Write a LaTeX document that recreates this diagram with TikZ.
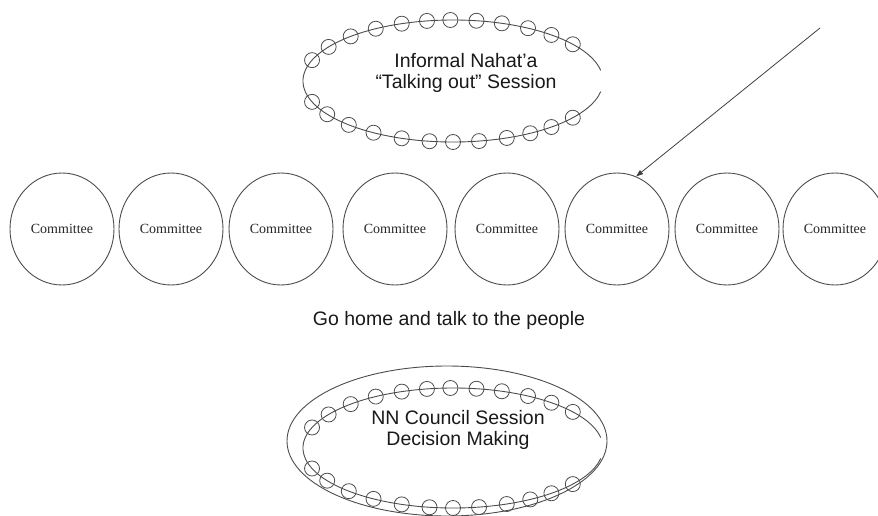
\documentclass[tikz,border=0pt]{standalone}
\usepackage{fontspec}
\setmainfont{Liberation Sans}
\newfontfamily\serifcmt{Liberation Serif}
\usetikzlibrary{arrows.meta}
\usetikzlibrary{calc}
\usetikzlibrary{shapes.geometric}

\begin{document}
\begin{tikzpicture}[
        x=1pt, y=-1pt, % pixel coordinates, y going down
        line/.style={draw=black!70, line width=0.9pt}, % general lines
        committee/.style={ellipse, line, minimum width=104pt, minimum height=112pt,
            inner sep=0pt, font=\serifcmt\fontsize{14}{16}\selectfont, text=black!85},
        bead/.style={draw=black!70, line width=0.8pt}, % small rings on the session ring
        label/.style={font=\fontsize{19.5}{21}\selectfont, text=black!90, align=center},
        arrow/.style={-{Triangle[length=7pt, width=5pt]}, draw=black!75, line width=0.8pt}
    ]
        \useasboundingbox (0,0) rectangle (878,516);

        % --- Informal session (top) ---
        \coordinate (ringA) at (453,81);
        \draw[line] (ringA) ++(10:150pt and 61pt)
            arc[start angle=10, end angle=350, x radius=150pt, y radius=61pt];
        \foreach \a in {37,49,60,71,81,91,100,110,121,133,146,160,
                        200,213,226,238,250,261,270,280,291,301,311,323}
            \draw[bead] ($(ringA)+(\a:150pt and 61pt)$) circle (7.5pt);
        \node[label] (talk) at (466,73) {Informal Nahat'a\\``Talking out'' Session};

        % --- Committees in a row ---
        \foreach \x [count=\i] in {62,171,281,395,507,617,727,835}
            \node[committee] (c\i) at (\x,229) {Committee};

        % --- Arrow coming in from the upper right ---
        \coordinate (src) at (820,28);
        \draw[arrow] (src) -- (c6.70);

        % --- Go home ---
        \node[label] (home) at (449,320) {Go home and talk to the people};

        % --- Council session (bottom) ---
        \node[ellipse, line, minimum width=320pt, minimum height=150pt, inner sep=0pt]
            (council) at (447,441) {};
        \coordinate (ringB) at (453,448);
        \draw[line] (ringB) ++(10:150pt and 60pt)
            arc[start angle=10, end angle=350, x radius=150pt, y radius=60pt];
        \foreach \a in {37,49,60,71,81,91,100,110,121,133,146,160,
                        200,213,226,238,250,261,270,280,291,301,311,323}
            \draw[bead] ($(ringB)+(\a:150pt and 60pt)$) circle (7.5pt);
        \node[label] (decide) at (458,430) {NN Council Session\\Decision Making};

    \end{tikzpicture}
\end{document}
